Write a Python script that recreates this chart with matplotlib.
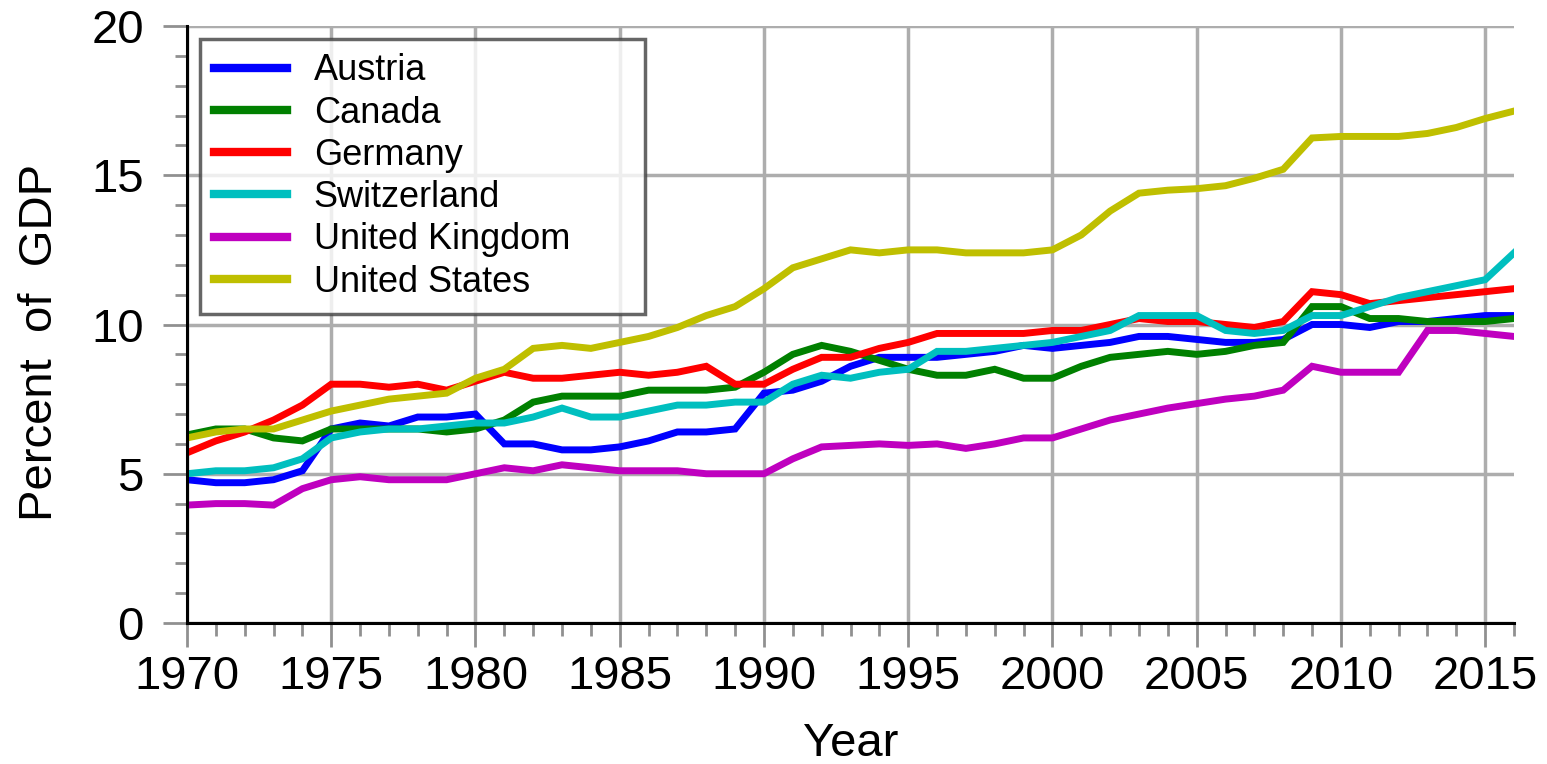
import numpy as np
import matplotlib
matplotlib.use('Agg')
import matplotlib.pyplot as plt
from matplotlib.ticker import MultipleLocator

plt.rcParams['font.family'] = ['Liberation Sans', 'DejaVu Sans']

# Health expenditure, percent of GDP, 1970-2016
years = list(range(1970, 2017))

austria = [4.8, 4.7, 4.7, 4.8, 5.1, 6.5, 6.7, 6.6, 6.9, 6.9,
           7.0, 6.0, 6.0, 5.8, 5.8, 5.9, 6.1, 6.4, 6.4, 6.5,
           7.7, 7.8, 8.1, 8.6, 8.9, 8.9, 8.9, 9.0, 9.1, 9.3,
           9.2, 9.3, 9.4, 9.6, 9.6, 9.5, 9.4, 9.4, 9.5, 10.0,
           10.0, 9.9, 10.1, 10.1, 10.2, 10.3, 10.3]
canada = [6.3, 6.5, 6.5, 6.2, 6.1, 6.5, 6.5, 6.5, 6.5, 6.4,
          6.5, 6.8, 7.4, 7.6, 7.6, 7.6, 7.8, 7.8, 7.8, 7.9,
          8.4, 9.0, 9.3, 9.1, 8.8, 8.5, 8.3, 8.3, 8.5, 8.2,
          8.2, 8.6, 8.9, 9.0, 9.1, 9.0, 9.1, 9.3, 9.4, 10.6,
          10.6, 10.2, 10.2, 10.1, 10.1, 10.1, 10.2]
germany = [5.7, 6.1, 6.4, 6.8, 7.3, 8.0, 8.0, 7.9, 8.0, 7.8,
           8.1, 8.4, 8.2, 8.2, 8.3, 8.4, 8.3, 8.4, 8.6, 8.0,
           8.0, 8.5, 8.9, 8.9, 9.2, 9.4, 9.7, 9.7, 9.7, 9.7,
           9.8, 9.8, 10.0, 10.2, 10.1, 10.1, 10.0, 9.9, 10.1, 11.1,
           11.0, 10.7, 10.8, 10.9, 11.0, 11.1, 11.2]
switzerland = [5.0, 5.1, 5.1, 5.2, 5.5, 6.2, 6.4, 6.5, 6.5, 6.6,
               6.7, 6.7, 6.9, 7.2, 6.9, 6.9, 7.1, 7.3, 7.3, 7.4,
               7.4, 8.0, 8.3, 8.2, 8.4, 8.5, 9.1, 9.1, 9.2, 9.3,
               9.4, 9.6, 9.8, 10.3, 10.3, 10.3, 9.8, 9.7, 9.8, 10.3,
               10.3, 10.6, 10.9, 11.1, 11.3, 11.5, 12.4]
uk = [3.95, 4.0, 4.0, 3.95, 4.5, 4.8, 4.9, 4.8, 4.8, 4.8,
      5.0, 5.2, 5.1, 5.3, 5.2, 5.1, 5.1, 5.1, 5.0, 5.0,
      5.0, 5.5, 5.9, 5.95, 6.0, 5.95, 6.0, 5.85, 6.0, 6.2,
      6.2, 6.5, 6.8, 7.0, 7.2, 7.35, 7.5, 7.6, 7.8, 8.6,
      8.4, 8.4, 8.4, 9.8, 9.8, 9.7, 9.6]
us = [6.2, 6.4, 6.5, 6.5, 6.8, 7.1, 7.3, 7.5, 7.6, 7.7,
      8.2, 8.5, 9.2, 9.3, 9.2, 9.4, 9.6, 9.9, 10.3, 10.6,
      11.2, 11.9, 12.2, 12.5, 12.4, 12.5, 12.5, 12.4, 12.4, 12.4,
      12.5, 13.0, 13.8, 14.4, 14.5, 14.55, 14.65, 14.9, 15.2, 16.25,
      16.3, 16.3, 16.3, 16.4, 16.6, 16.9, 17.15]

countries = ['Austria', 'Canada', 'Germany', 'Switzerland', 'United Kingdom', 'United States']
series = [austria, canada, germany, switzerland, uk, us]
colors = ['#0000ff', '#008000', '#ff0000', '#00bfbf', '#bf00bf', '#bfbf00']

fig = plt.figure(figsize=(15.47, 7.64), dpi=100)
ax = fig.add_axes([187 / 1547, 1 - 623 / 764, (1514 - 187) / 1547, (623 - 26) / 764])

for name, vals, c in zip(countries, series, colors):
    ax.plot(years, vals, color=c, lw=5, label=name, solid_joinstyle='miter')

ax.set_xlim(1970, 2016)
ax.set_ylim(0, 20)
ax.xaxis.set_major_locator(MultipleLocator(5))
ax.xaxis.set_minor_locator(MultipleLocator(1))
ax.yaxis.set_major_locator(MultipleLocator(5))
ax.yaxis.set_minor_locator(MultipleLocator(1))

ax.grid(True, which='major', color='#adadad', lw=2.5)
ax.set_axisbelow(True)

for s in ['top', 'right']:
    ax.spines[s].set_visible(False)
for s in ['left', 'bottom']:
    ax.spines[s].set_color('black')
    ax.spines[s].set_linewidth(2.2)

ax.tick_params(which='major', length=17, width=2, color='#909090', labelsize=34)
ax.tick_params(which='minor', length=9, width=2, color='#909090')
ax.tick_params(axis='y', which='major', pad=14)
ax.tick_params(axis='x', which='major', pad=6)

ax.set_xlabel('Year', fontsize=34)
ax.set_ylabel('Percent  of  GDP', fontsize=34)
ax.yaxis.set_label_coords(-0.094, 0.47)
ax.xaxis.set_label_coords(0.5, -0.166)

# legend box spans roughly x 200-645, y 39-312 px in the reference
x0 = (200 - 187) / 1327
y1 = (623 - 39) / 597
w = (645 - 200) / 1327
h = (312 - 39) / 597
leg = ax.legend(loc='upper left', bbox_to_anchor=(x0, y1 - h, w, h), mode='expand',
                borderaxespad=0, fontsize=26, frameon=True, fancybox=False,
                handlelength=2.0, handletextpad=0.75, labelspacing=0.2,
                borderpad=0.4)
leg.get_frame().set_edgecolor('#404040')
leg.get_frame().set_linewidth(2.5)
for line in leg.get_lines():
    line.set_linewidth(6)

fig.savefig('out.png', dpi=100)
